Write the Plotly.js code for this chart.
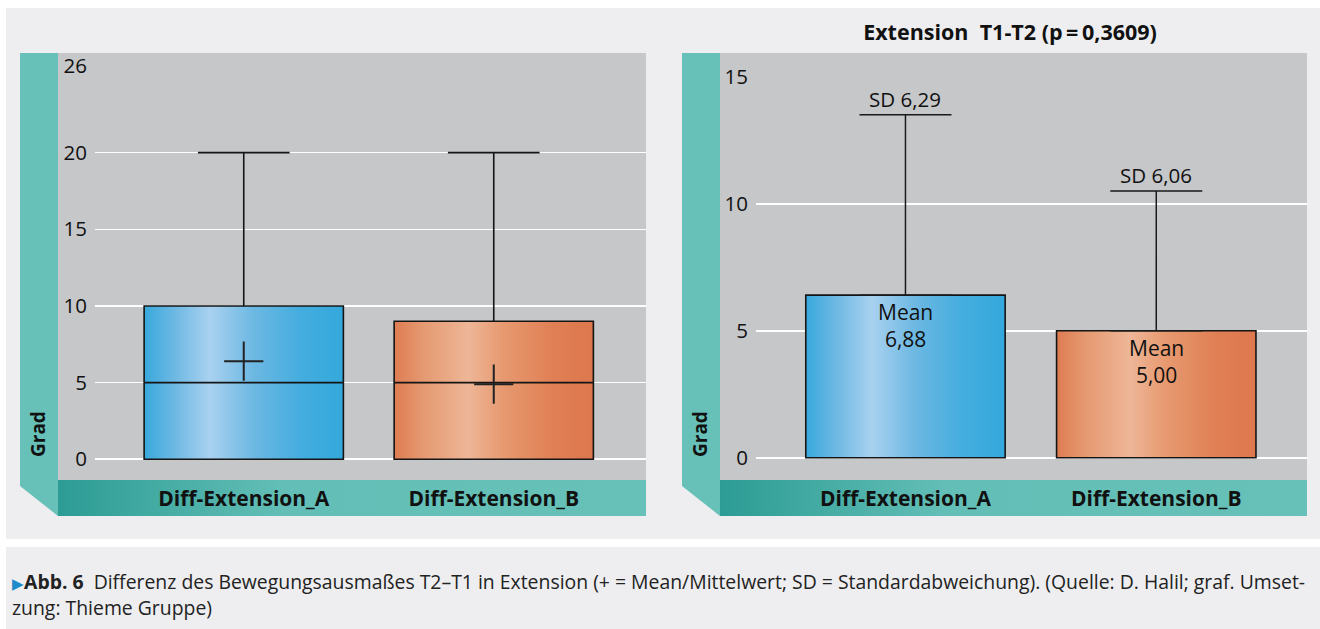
<!DOCTYPE html>
<html>
<head>
<meta charset="utf-8">
<script src="https://cdn.plot.ly/plotly-3.0.1.min.js"></script>
<style>html,body{margin:0;padding:0;background:#fff;}#chart{width:1320px;height:629px;}</style>
</head>
<body>
<div id="chart"></div>
<script>
// ---------- data ----------
const categories = ['Diff-Extension_A', 'Diff-Extension_B'];
// left panel: box plot (as drawn)
const boxQ1 = [0, 0];
const boxMedian = [5, 5];
const boxQ3 = [10, 9];
const boxLowerFence = [0, 0];
const boxUpperFence = [20, 20];
const boxMean = [6.4, 4.9];
const leftTickVals = [0, 5, 10, 15, 20, 25.65];
// right panel: mean bars with SD (as drawn)
const barMean = [6.4, 5.0];
const barSdTop = [13.5, 10.5];
const meanLabels = ['6,88', '5,00'];
const sdLabels = ['6,29', '6,06'];
const rightTickVals = [0, 5, 10, 15];
const rightTitle = 'Extension\u00a0 T1-T2 (p\u2009=\u20090,3609)';
const yTitle = 'Grad';
const captionLine1 = 'Differenz des Bewegungsausmaßes T2–T1 in Extension (+ = Mean/Mittelwert; SD = Standardabweichung). (Quelle: D. Halil; graf. Umset-';
const captionLine2 = 'zung: Thieme Gruppe)';

// ---------- styling ----------
const W = 1320, H = 629;
const fx = px => px / W;
const fy = py => 1 - py / H;
const FONT = 'Open Sans, Liberation Sans, sans-serif';
const gradients = [
  [[0, '#38A8DC'], [0.15, '#6CB8E3'], [0.33, '#A9D1F0'], [0.55, '#6CB8E2'], [0.78, '#45ADDF'], [1, '#33A8DC']],
  [[0, '#DF7C52'], [0.15, '#E59A72'], [0.37, '#EEB697'], [0.55, '#E7996F'], [0.8, '#E07F55'], [1, '#DE774D']]
];
const boxWidth = 0.797, barWidth = 0.795;
const leftRange = [-1.35, 25.65];
const rightRange = [-0.878, 15];
const leftXRange = [-0.595, 1.609];
const rightXRange = [-0.596, 1.601];
const pos = categories.map((c, i) => i);

const traces = [];
// gradient fills for boxes (base axes x/y)
pos.forEach((p, i) => {
  const x0 = p - boxWidth / 2, x1 = p + boxWidth / 2;
  traces.push({
    type: 'scatter', mode: 'lines', xaxis: 'x', yaxis: 'y',
    x: [x0, x1, x1, x0, x0], y: [boxQ1[i], boxQ1[i], boxQ3[i], boxQ3[i], boxQ1[i]],
    fill: 'toself', fillgradient: {type: 'horizontal', colorscale: gradients[i]},
    line: {width: 0}, hoverinfo: 'skip', showlegend: false
  });
});
// box plot on overlay axes
traces.push({
  type: 'box', xaxis: 'x3', yaxis: 'y3', x: pos,
  q1: boxQ1, median: boxMedian, q3: boxQ3, lowerfence: boxLowerFence, upperfence: boxUpperFence,
  width: boxWidth, whiskerwidth: 0.46, boxpoints: false,
  fillcolor: 'rgba(0,0,0,0)', line: {color: '#151515', width: 1.6},
  hoverinfo: 'skip', showlegend: false
});
traces.push({
  type: 'scatter', mode: 'markers', xaxis: 'x3', yaxis: 'y3', x: pos, y: boxMean,
  marker: {symbol: 'cross-thin', size: 28, color: '#222', line: {color: '#222', width: 2}},
  hoverinfo: 'skip', showlegend: false
});
// gradient fills for bars (base axes x2/y2)
pos.forEach((p, i) => {
  const x0 = p - barWidth / 2, x1 = p + barWidth / 2;
  traces.push({
    type: 'scatter', mode: 'lines', xaxis: 'x2', yaxis: 'y2',
    x: [x0, x1, x1, x0, x0], y: [0, 0, barMean[i], barMean[i], 0],
    fill: 'toself', fillgradient: {type: 'horizontal', colorscale: gradients[i]},
    line: {width: 0}, hoverinfo: 'skip', showlegend: false
  });
});
// bars with SD error bars on overlay axes
traces.push({
  type: 'bar', xaxis: 'x4', yaxis: 'y4', x: pos, y: barMean, width: barWidth,
  marker: {color: 'rgba(0,0,0,0)', line: {color: '#151515', width: 1.6}},
  error_y: {type: 'data', symmetric: false, array: barSdTop.map((t, i) => t - barMean[i]),
            arrayminus: barMean.map(() => 0), color: '#1a1a1a', thickness: 1.5, width: 46},
  hoverinfo: 'skip', showlegend: false
});

const tickFont = {family: FONT, size: 20.5, color: '#111'};
const catFont = {family: FONT, size: 21, color: '#111', weight: 'bold'};

function bandSvg() {
  const svg = '<svg xmlns="http://www.w3.org/2000/svg" width="200" height="20" viewBox="0 0 200 20" preserveAspectRatio="none">' +
    '<defs><linearGradient id="g" x1="0" x2="1" y1="0" y2="0">' +
    '<stop offset="0" stop-color="#2C9C94"/><stop offset="0.38" stop-color="#62BEB6"/><stop offset="1" stop-color="#67C1B9"/>' +
    '</linearGradient></defs><rect width="200" height="20" fill="url(#g)"/></svg>';
  return 'data:image/svg+xml;base64,' + btoa(svg);
}
const P = (px, py) => fx(px) + ',' + fy(py);
const rectShape = (x0, y0, x1, y1, color) => ({type: 'rect', xref: 'paper', yref: 'paper',
  x0: fx(x0), x1: fx(x1), y0: fy(y1), y1: fy(y0), fillcolor: color, line: {width: 0}, layer: 'below'});
const sideShape = (xl, xr) => ({type: 'path', xref: 'paper', yref: 'paper', layer: 'below',
  path: 'M' + P(xl, 53) + 'L' + P(xr, 53) + 'L' + P(xr, 516) + 'L' + P(xl, 486) + 'Z',
  fillcolor: '#67C1B9', line: {width: 0}});

const shapes = [
  rectShape(0, 0, W, 8, '#FFFFFF'),
  rectShape(0, 0, 6, H, '#FFFFFF'),
  rectShape(0, 539, W, 547, '#FFFFFF'),
  rectShape(58, 53, 646, 480, '#C6C7C9'),
  rectShape(720, 53, 1307, 480, '#C6C7C9'),
  sideShape(20, 58),
  sideShape(682, 720)
];

const images = [
  {source: bandSvg(), xref: 'paper', yref: 'paper', x: fx(58), y: fy(480), sizex: fx(646) - fx(58), sizey: 36 / H,
   sizing: 'stretch', xanchor: 'left', yanchor: 'top', layer: 'below'},
  {source: bandSvg(), xref: 'paper', yref: 'paper', x: fx(720), y: fy(480), sizex: fx(1307) - fx(720), sizey: 36 / H,
   sizing: 'stretch', xanchor: 'left', yanchor: 'top', layer: 'below'}
];

const annotations = [];
pos.forEach((p, i) => {
  annotations.push({xref: 'x2', yref: 'y2', x: p, y: barSdTop[i], text: 'SD ' + sdLabels[i], showarrow: false,
    yanchor: 'bottom', yshift: 0, font: {family: FONT, size: 20.5, color: '#111'}});
  annotations.push({xref: 'x2', yref: 'y2', x: p, y: barMean[i], text: 'Mean<br>' + meanLabels[i], showarrow: false,
    yanchor: 'top', yshift: -1, font: {family: FONT, size: 21, color: '#111'}});
});
[38, 700].forEach(xp => annotations.push({xref: 'paper', yref: 'paper', x: fx(xp), y: fy(434), text: yTitle,
  textangle: -90, xanchor: 'center', yanchor: 'middle', showarrow: false,
  font: {family: FONT, size: 19, color: '#111', weight: 'bold'}}));
annotations.push({xref: 'paper', yref: 'paper', x: fx(10), y: fy(581), xanchor: 'left', yanchor: 'middle', showarrow: false,
  text: '<span style="color:#1E8BCB;font-size:15px">▶</span><b>Abb. 6</b>\u00a0 ' + captionLine1,
  font: {family: FONT, size: 19.4, color: '#222'}});
annotations.push({xref: 'paper', yref: 'paper', x: fx(10), y: fy(607), xanchor: 'left', yanchor: 'middle', showarrow: false,
  text: captionLine2, font: {family: FONT, size: 19.4, color: '#222'}});

const baseX = {tickvals: pos, ticktext: categories, tickfont: catFont, showgrid: false, zeroline: false,
  showline: false, ticks: '', ticklabelstandoff: 4, fixedrange: true};
const baseY = {showgrid: true, gridcolor: '#FFFFFF', gridwidth: 1.6, zeroline: false, showline: false,
  ticks: '', tickfont: tickFont, ticklabelstandoff: 7, fixedrange: true};

const layout = {
  width: W, height: H, margin: {l: 0, r: 0, t: 0, b: 0},
  paper_bgcolor: '#EEEEF0', plot_bgcolor: 'rgba(0,0,0,0)', showlegend: false,
  font: {family: FONT},
  title: {text: rightTitle, x: fx(1010), xanchor: 'center', xref: 'paper', y: fy(32), yanchor: 'middle', yref: 'paper',
    font: {family: FONT, size: 21.5, color: '#111', weight: 'bold'}},
  xaxis: Object.assign({}, baseX, {domain: [fx(95), fx(646)], range: leftXRange, anchor: 'y'}),
  yaxis: Object.assign({}, baseY, {domain: [fy(480), fy(66)], range: leftRange, anchor: 'x',
    tickvals: leftTickVals, ticktext: leftTickVals.map(v => String(Math.round(v)))}),
  xaxis2: Object.assign({}, baseX, {domain: [fx(756), fx(1307)], range: rightXRange, anchor: 'y2'}),
  yaxis2: Object.assign({}, baseY, {domain: [fy(480), fy(76.7)], range: rightRange, anchor: 'x2',
    tickvals: rightTickVals, ticktext: rightTickVals.map(String)}),
  xaxis3: {overlaying: 'x', anchor: 'y3', range: leftXRange, visible: false, fixedrange: true},
  yaxis3: {overlaying: 'y', anchor: 'x3', range: leftRange, visible: false, fixedrange: true},
  xaxis4: {overlaying: 'x2', anchor: 'y4', range: rightXRange, visible: false, fixedrange: true},
  yaxis4: {overlaying: 'y2', anchor: 'x4', range: rightRange, visible: false, fixedrange: true},
  shapes: shapes, images: images, annotations: annotations, barmode: 'overlay'
};

Plotly.newPlot('chart', traces, layout, {displayModeBar: false, staticPlot: true});
</script>
</body>
</html>
